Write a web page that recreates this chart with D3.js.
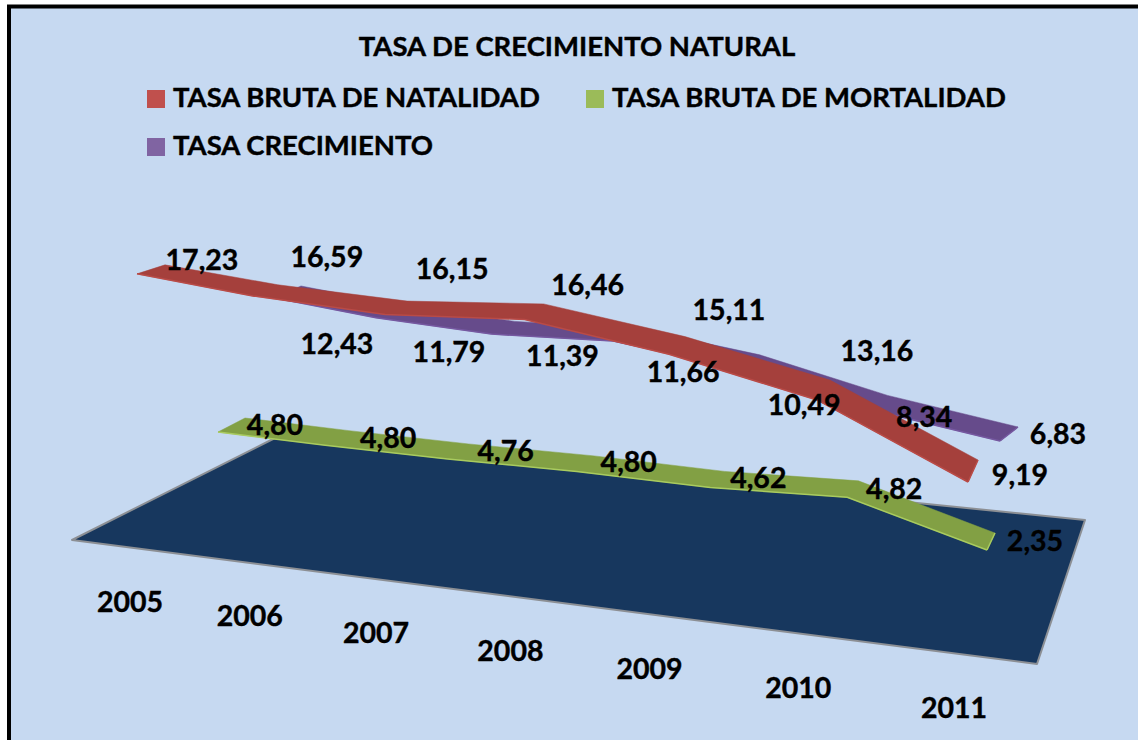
<!DOCTYPE html>
<html lang="es"><head><meta charset="utf-8">
<script src="https://cdn.jsdelivr.net/npm/d3@7/dist/d3.min.js"></script>
<style>html,body{margin:0;padding:0;background:#fff;overflow:hidden}svg{display:block}text{font-family:Lato,"Open Sans",sans-serif;font-weight:700;fill:#000;stroke:#000;stroke-width:.4px}</style>
</head><body><svg id="c" width="1138" height="740"></svg>
<script>
const title = "TASA DE CRECIMIENTO NATURAL";
const years = ["2005","2006","2007","2008","2009","2010","2011"];
const natalidad  = [17.23,16.59,16.15,16.46,15.11,13.16,9.19];
const mortalidad = [4.80,4.80,4.76,4.80,4.62,4.82,2.35];
const crecimiento= [12.43,11.79,11.39,11.66,10.49,8.34,6.83];
const nameNat = "TASA BRUTA DE NATALIDAD", nameMor = "TASA BRUTA DE MORTALIDAD", nameCre = "TASA CRECIMIENTO";

const fmt = v => d3.format(".2f")(v).replace(".", ",");
const svg = d3.select("#c");
const idx = d3.range(years.length);
const W = 1138, H = 740;
const FS = 27.5, FSL = 28.5;

// panel
svg.append("rect").attr("width",W).attr("height",H).attr("fill","#fff");
svg.append("rect").attr("x",9).attr("y",6.5).attr("width",W+20).attr("height",H+20)
  .attr("fill","#c6d9f1").attr("stroke","#000").attr("stroke-width",4);

// projection of the 3-D chart: each depth slot has its own scales
function slot(o){
  const x = d3.scalePow().exponent(o.exp).domain([0,6]).range(o.xr);
  const base = d3.scaleLinear().domain([0,6]).range(o.base);
  const h = d3.scaleLinear().domain([0,20]).range([0,20*o.k]);
  const bx = d3.scaleLinear().domain([0,6]).range(o.bdx);
  const by = d3.scaleLinear().domain([0,6]).range(o.bdy);
  return {
    front:(i,v)=>[x(i),base(i)-h(v)],
    back:(i,v)=>[x(i)+bx(i),base(i)-h(v)+by(i)]
  };
}
const slotNat = slot({exp:1.1, xr:[137,968], base:[584,647.4], k:18, bdx:[28,10], bdy:[-9,-22]});
const slotCre = slot({exp:1.1, xr:[275,1000],base:[472,536.6], k:14, bdx:[26,18], bdy:[-12,-14]});
const slotMor = slot({exp:1.1, xr:[218,987], base:[508.8,587.6],k:16, bdx:[27,8], bdy:[-14,-17]});

// floor
const floorX = d3.scaleLinear().domain([0,1]).range([72,1037]);
const floorY = d3.scaleLinear().domain([0,1]).range([540,664]);
const floorBX = d3.scaleLinear().domain([0,1]).range([275,1085]);
const floorBY = d3.scaleLinear().domain([0,1]).range([438,520]);
const poly = d3.line();
svg.append("path").attr("d",poly([[floorX(0),floorY(0)],[floorBX(0),floorBY(0)],[floorBX(1),floorBY(1)],[floorX(1),floorY(1)]])+"Z")
  .attr("fill","#17375e").attr("stroke","#8c8f94").attr("stroke-width",2).attr("stroke-linejoin","round");

function ribbon(s,vals,fill,edge){
  const g = svg.append("g");
  const pts = idx.map(i=>s.front(i,vals[i]));
  const bk = idx.map(i=>s.back(i,vals[i]));
  g.append("path").attr("d",poly(pts.concat(bk.slice().reverse()))+"Z").attr("fill",fill).attr("stroke",fill).attr("stroke-width",.5).attr("stroke-linejoin","round");
  g.append("path").attr("d",poly(pts)).attr("fill","none").attr("stroke",edge).attr("stroke-width",1.5);
  g.append("path").attr("d",poly([pts[6],bk[6]])).attr("fill","none").attr("stroke",edge).attr("stroke-width",1.5);
}
ribbon(slotMor,mortalidad,"#82a044","#a9cb5f");
ribbon(slotCre,crecimiento,"#664b8b","#7558a0");
ribbon(slotNat,natalidad,"#a5403c","#b94b47");

// data labels
const nudgeNat = [[65,-15],[74,-40],[67,-46],[63,-35],[60,-45],[60,-50],[52,-8]];
const nudgeCre = [[62,45],[73,33.5],[71,20.5],[70,29.5],[65,35.5],[56,6.5],[58,-8]];
const nudgeMor = [[57,-8],[63,-8],[58,-9],[52,-10],[48,-10],[47,-9],[48,-10]];
function labels(s,vals,n){
  svg.append("g").selectAll("text").data(vals).join("text")
    .attr("x",(v,i)=>s.front(i,v)[0]+n[i][0]).attr("y",(v,i)=>s.front(i,v)[1]+n[i][1])
    .attr("text-anchor","middle").attr("dominant-baseline","central").attr("font-size",FSL)
    .text(fmt);
}
labels(slotNat,natalidad,nudgeNat);
labels(slotCre,crecimiento,nudgeCre);
labels(slotMor,mortalidad,nudgeMor);

// category labels
const catX = d3.scalePow().exponent(1.1).domain([0,6]).range([130,954]);
const catY = d3.scalePow().exponent(1.1).domain([0,6]).range([600.5,706.5]);
const catNudge = [0,5,0,-4,-8,-6,0];
svg.append("g").selectAll("text").data(years).join("text")
  .attr("x",(d,i)=>catX(i)+catNudge[i]).attr("y",(d,i)=>catY(i))
  .attr("text-anchor","middle").attr("dominant-baseline","central").attr("font-size",FSL).text(d=>d);

// title & legend
svg.append("text").attr("x",577).attr("y",45.5).attr("text-anchor","middle").attr("dominant-baseline","central").attr("font-size",FS).text(title);
const legend = [[nameNat,"#c0504d",147,96.5],[nameMor,"#9bbb59",586,96.5],[nameCre,"#8064a2",147,144.5]];
legend.forEach(([t,c,x,y])=>{
  svg.append("rect").attr("x",x).attr("y",y-6.5).attr("width",18).attr("height",18).attr("fill",c);
  svg.append("text").attr("x",x+26).attr("y",y).attr("dominant-baseline","central").attr("font-size",FS).text(t);
});
</script></body></html>
